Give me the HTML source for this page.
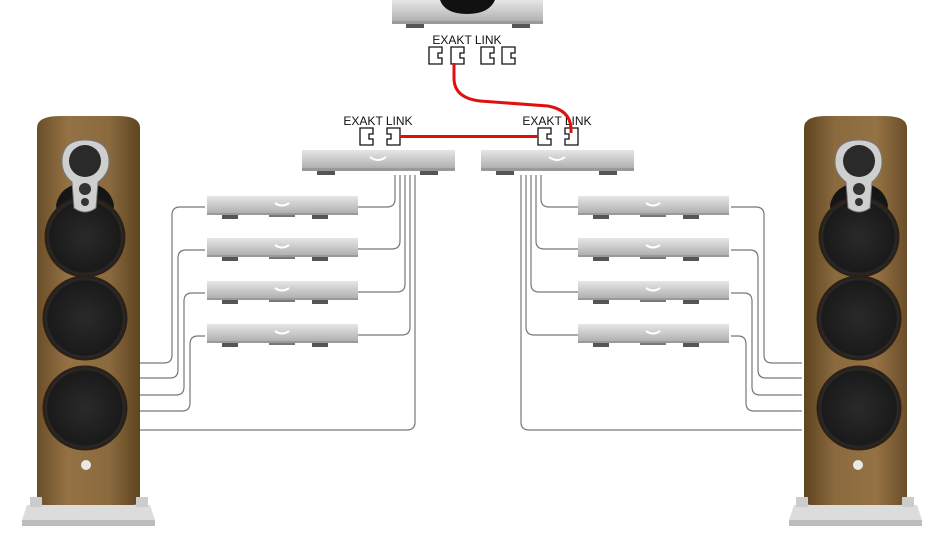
<!DOCTYPE html>
<html><head><meta charset="utf-8"><style>
html,body{margin:0;padding:0;background:#fff;width:935px;height:535px;overflow:hidden}
svg{display:block}
text{font-family:"Liberation Sans",sans-serif;font-size:12px;fill:#111}
</style></head><body>
<svg width="935" height="535" viewBox="0 0 935 535" xmlns="http://www.w3.org/2000/svg">
<defs>
<linearGradient id="dev" x1="0" y1="0" x2="0" y2="1">
<stop offset="0" stop-color="#e6e6e6"/><stop offset="0.5" stop-color="#c9c9c9"/><stop offset="1" stop-color="#a9a9a9"/></linearGradient>
<linearGradient id="wood" x1="0" y1="0" x2="1" y2="0">
<stop offset="0" stop-color="#6a4e28"/><stop offset="0.3" stop-color="#957244"/><stop offset="0.7" stop-color="#8a6a3e"/><stop offset="1" stop-color="#5e4420"/></linearGradient>
<radialGradient id="drv" cx="0.5" cy="0.5" r="0.5"><stop offset="0" stop-color="#2a2a2a"/><stop offset="0.9" stop-color="#1a1a1a"/><stop offset="1" stop-color="#3a3a3a"/></radialGradient>
<g id="small">
<rect x="0" y="0" width="151" height="19" fill="url(#dev)"/>
<rect x="0" y="17" width="151" height="2" fill="#9a9a9a"/>
<path d="M68 7 Q75 12 82 7" stroke="#fff" stroke-width="2" fill="none"/>
<rect x="15" y="19" width="16" height="4" fill="#555"/>
<rect x="105" y="19" width="16" height="4" fill="#555"/>
<rect x="62" y="19" width="26" height="2" fill="#777"/>
</g>
<g id="mid">
<rect x="0" y="0" width="153" height="20" fill="url(#dev)"/>
<rect x="0" y="18" width="153" height="3" fill="#999"/>
<path d="M68 7 Q76 13 84 7" stroke="#fff" stroke-width="2" fill="none"/>
<rect x="15" y="21" width="18" height="4" fill="#555"/>
<rect x="118" y="21" width="18" height="4" fill="#555"/>
</g>
<g id="conR" fill="#fff" stroke="#111" stroke-width="1.3">
<path d="M0 0 H13 V6 H9 V11 H13 V17 H0 Z"/>
</g>
<g id="conL" fill="#fff" stroke="#111" stroke-width="1.3">
<path d="M0 0 H13 V17 H0 V11 H4 V6 H0 Z"/>
</g>
<g id="wires" fill="none" stroke="#777" stroke-width="1.2">
<path d="M205 207 H180 Q172 207 172 215 V355 Q172 363 164 363 H140"/>
<path d="M205 250 H186 Q178 250 178 258 V370 Q178 378 170 378 H140"/>
<path d="M205 293 H192 Q184 293 184 301 V387 Q184 395 176 395 H140"/>
<path d="M205 336 H198 Q190 336 190 344 V403 Q190 411 182 411 H140"/>
<path d="M358 207 H387 Q395 207 395 199 V175"/>
<path d="M358 249 H392 Q400 249 400 241 V175"/>
<path d="M358 292 H397 Q405 292 405 284 V175"/>
<path d="M358 335 H402 Q410 335 410 327 V175"/>
<path d="M415 175 V422 Q415 430 407 430 H140"/>
</g>
<g id="spk">
<path d="M37 128 Q37 116 60 116 H118 Q140 116 140 128 V498 Q140 505 133 505 H44 Q37 505 37 498 Z" fill="url(#wood)"/>
<path d="M27 505 L150 505 L155 520 L22 520 Z" fill="#dcdcdc"/>
<rect x="22" y="520" width="133" height="6" fill="#bcbcbc"/>
<rect x="30" y="497" width="12" height="10" fill="#ccc"/>
<rect x="136" y="497" width="12" height="10" fill="#ccc"/>
<path d="M56 205 Q60 185 85 182 Q110 185 114 205 L112 220 H58 Z" fill="#151515"/>
<circle cx="85" cy="237" r="39" fill="url(#drv)" stroke="#2b2118" stroke-width="3"/>
<circle cx="85" cy="318" r="41" fill="url(#drv)" stroke="#2b2118" stroke-width="3"/>
<circle cx="85" cy="408" r="41" fill="url(#drv)" stroke="#2b2118" stroke-width="3"/>
<path d="M62 162 Q62 140 85 140 Q109 140 109 162 Q109 174 98 182 L96 208 Q85 216 74 208 L72 182 Q62 174 62 162 Z" fill="#cfcfcf" stroke="#777" stroke-width="1"/>
<circle cx="85" cy="161" r="16" fill="#2a2a2a"/>
<circle cx="85" cy="189" r="6" fill="#333"/>
<circle cx="85" cy="202" r="4" fill="#333"/>
<circle cx="86" cy="465" r="5" fill="#e8e8e8"/>
</g>
</defs>

<rect x="392" y="0" width="151" height="24" fill="url(#dev)"/>
<rect x="392" y="21" width="151" height="3" fill="#999"/>
<path d="M440 0 Q445 14 467 14 Q489 14 495 0 Z" fill="#111"/>
<rect x="406" y="24" width="18" height="4" fill="#555"/>
<rect x="512" y="24" width="18" height="4" fill="#555"/>
<text x="467" y="44" text-anchor="middle">EXAKT LINK</text>
<use href="#conR" x="429" y="47"/>
<use href="#conR" x="451" y="47"/>
<use href="#conR" x="481" y="47"/>
<use href="#conR" x="502" y="47"/>

<use href="#mid" x="302" y="150"/>
<use href="#mid" x="481" y="150"/>
<text x="378" y="125" text-anchor="middle">EXAKT LINK</text>
<text x="557" y="125" text-anchor="middle">EXAKT LINK</text>
<use href="#conR" x="360" y="128"/>
<use href="#conL" x="387" y="128"/>
<use href="#conR" x="538" y="128"/>
<use href="#conL" x="565" y="128"/>

<path d="M400 136.5 H538" stroke="#e01010" stroke-width="3" fill="none"/>
<path d="M454 63 V78 Q454 98 480 101 L548 106 Q570 110 571 128 V133" stroke="#e01010" stroke-width="3" fill="none"/>

<use href="#small" x="207" y="196"/>
<use href="#small" x="207" y="238"/>
<use href="#small" x="207" y="281"/>
<use href="#small" x="207" y="324"/>
<use href="#small" x="578" y="196"/>
<use href="#small" x="578" y="238"/>
<use href="#small" x="578" y="281"/>
<use href="#small" x="578" y="324"/>

<use href="#wires"/>
<g transform="translate(936,0) scale(-1,1)"><use href="#wires"/></g>
<g stroke="#777" stroke-width="1.2"><line x1="796" y1="363" x2="802" y2="363"/><line x1="796" y1="378" x2="802" y2="378"/><line x1="796" y1="395" x2="802" y2="395"/><line x1="796" y1="411" x2="802" y2="411"/><line x1="796" y1="430" x2="802" y2="430"/></g>

<use href="#spk"/>
<g transform="translate(944,0) scale(-1,1)"><use href="#spk"/></g>
</svg>
</body></html>
